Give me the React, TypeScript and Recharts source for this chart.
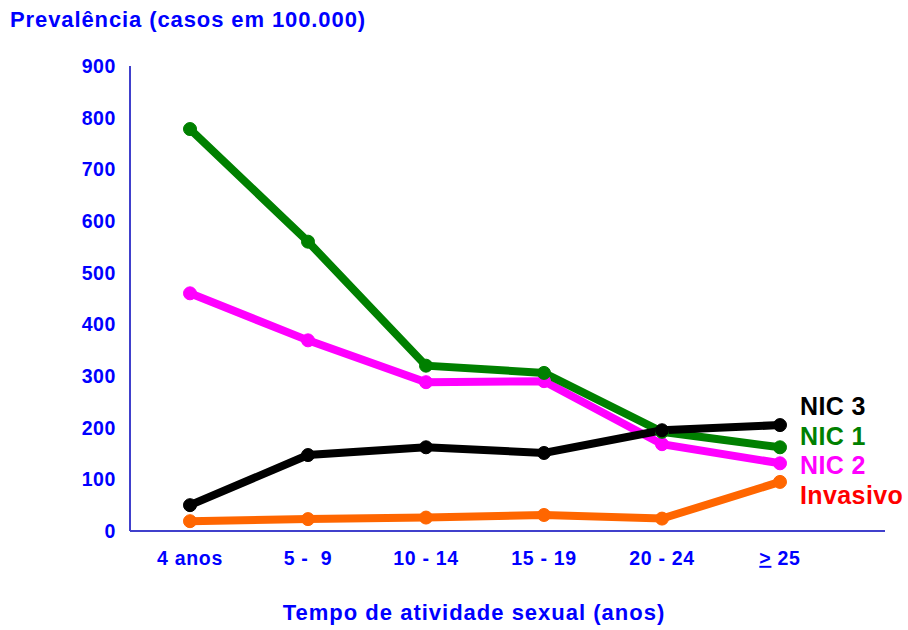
import React from "react";
import { LineChart, Line, XAxis, YAxis } from "recharts";

const periods = ["4 anos", "5 -  9", "10 - 14", "15 - 19", "20 - 24", "> 25"];
const nic1 = [778, 560, 320, 306, 192, 162];
const nic2 = [460, 369, 288, 290, 168, 131];
const nic3 = [50, 147, 162, 151, 195, 205];
const invasivo = [19, 23, 26, 31, 24, 95];
const yTicks = [0, 100, 200, 300, 400, 500, 600, 700, 800, 900];

const legendItems = [
  { name: "NIC 3", color: "#000000" },
  { name: "NIC 1", color: "#008000" },
  { name: "NIC 2", color: "#ff00ff" },
  { name: "Invasivo", color: "#ff0000" },
];

const data = periods.map((p, i) => ({
  period: p,
  nic1: nic1[i],
  nic2: nic2[i],
  nic3: nic3[i],
  invasivo: invasivo[i],
}));

const font = "'Liberation Sans', Arial, sans-serif";
const blue = "#0000ff";

function XTick(props: any) {
  const { x, y, payload } = props;
  const v: string = payload.value;
  const under = v.startsWith(">");
  return (
    <text
      x={x}
      y={y}
      dy="0.71em"
      textAnchor="middle"
      fill={blue}
      fontFamily={font}
      fontWeight="bold"
      fontSize={19.5}
      letterSpacing={0.7}
      style={{ whiteSpace: "pre" }}
    >
      {under ? (
        <>
          <tspan textDecoration="underline">&gt;</tspan>
          <tspan>{v.slice(1)}</tspan>
        </>
      ) : (
        v
      )}
    </text>
  );
}

export default function App() {
  return (
    <div style={{ position: "absolute", left: 0, top: 0, width: 908, height: 630, background: "#fff" }}>
      <div
        style={{
          position: "absolute",
          left: 10,
          top: 7,
          fontFamily: font,
          fontWeight: "bold",
          fontSize: 22,
          letterSpacing: 0.9,
          color: blue,
        }}
      >
        Prevalência (casos em 100.000)
      </div>
      <LineChart
        width={908}
        height={630}
        data={data}
        margin={{ top: 66, right: 23, bottom: 0, left: 0 }}
      >
        <XAxis
          dataKey="period"
          padding={{ left: 60, right: 105 }}
          axisLine={{ stroke: "#4040cc", strokeWidth: 2 }}
          tickLine={false}
          tickSize={6}
          tickMargin={14}
          tick={<XTick />}
          interval={0}
          height={99}
        />
        <YAxis
          domain={[0, 900]}
          ticks={yTicks}
          interval={0}
          width={130}
          axisLine={{ stroke: "#4040cc", strokeWidth: 2 }}
          tickLine={false}
          tickSize={6}
          tickMargin={8}
          tick={{ fill: blue, fontFamily: font, fontWeight: "bold", fontSize: 19.5, letterSpacing: 0.6 }}
        />
        <Line
          dataKey="invasivo"
          stroke="#ff6600"
          strokeWidth={8}
          dot={{ r: 6.5, fill: "#ff6600", stroke: "#ff6600", strokeWidth: 1 }}
          isAnimationActive={false}
        />
        <Line
          dataKey="nic2"
          stroke="#ff00ff"
          strokeWidth={8}
          dot={{ r: 6.5, fill: "#ff00ff", stroke: "#ff00ff", strokeWidth: 1 }}
          isAnimationActive={false}
        />
        <Line
          dataKey="nic1"
          stroke="#008000"
          strokeWidth={8}
          dot={{ r: 6.5, fill: "#008000", stroke: "#008000", strokeWidth: 1 }}
          isAnimationActive={false}
        />
        <Line
          dataKey="nic3"
          stroke="#000000"
          strokeWidth={8}
          dot={{ r: 6.5, fill: "#000000", stroke: "#000000", strokeWidth: 1 }}
          isAnimationActive={false}
        />
      </LineChart>
      <div
        style={{
          position: "absolute",
          left: 800,
          top: 392,
          fontFamily: font,
          fontWeight: "bold",
          fontSize: 25,
          letterSpacing: 0.4,
          lineHeight: "29.5px",
        }}
      >
        {legendItems.map((it) => (
          <div key={it.name} style={{ color: it.color }}>
            {it.name}
          </div>
        ))}
      </div>
      <div
        style={{
          position: "absolute",
          left: 0,
          width: 948,
          top: 600,
          textAlign: "center",
          fontFamily: font,
          fontWeight: "bold",
          fontSize: 22,
          letterSpacing: 1,
          color: blue,
        }}
      >
        Tempo de atividade sexual (anos)
      </div>
    </div>
  );
}
